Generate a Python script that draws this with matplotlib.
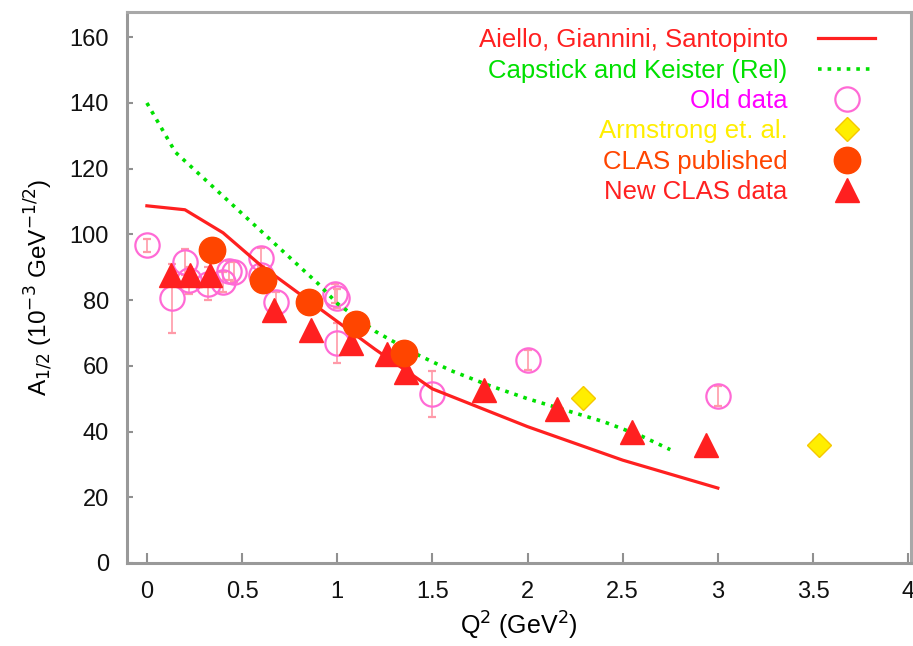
import matplotlib
matplotlib.use("Agg")
import matplotlib.pyplot as plt
import numpy as np
from matplotlib.ticker import FuncFormatter
from matplotlib.lines import Line2D

# ---- data ----
aiello_q2 = [0.0, 0.2, 0.4, 0.6, 0.8, 1.0, 1.2, 1.5, 2.0, 2.5, 3.0]
aiello_a = [108.7, 107.5, 100.5, 90.5, 82.0, 73.5, 65.0, 53.0, 41.5, 31.3, 22.8]

capstick_q2 = [0.0, 0.15, 0.3, 0.45, 0.6, 0.75, 0.9, 1.0, 1.2, 1.4, 1.6, 1.8, 2.0, 2.2, 2.4, 2.6, 2.75]
capstick_a = [140.0, 125.0, 117.0, 109.0, 101.0, 93.0, 85.0, 79.0, 70.5, 64.0, 58.5, 54.0, 50.0, 46.5, 43.0, 38.6, 34.5]

old_q2 = [0.0, 0.13, 0.2, 0.22, 0.32, 0.4, 0.43, 0.46, 0.6, 0.6, 0.68, 0.99, 1.0, 1.0, 1.5, 2.0, 3.0]
old_a = [96.7, 80.5, 91.5, 86.0, 85.0, 85.5, 89.0, 88.5, 92.8, 87.5, 79.4, 82.0, 80.5, 67.0, 51.5, 61.8, 50.8]
old_err = [2.0, 10.5, 4.0, 4.0, 5.0, 3.0, 3.0, 3.0, 3.0, 3.0, 3.0, 3.0, 3.0, 6.0, 7.0, 3.0, 3.0]

arm_q2 = [2.29, 3.53]
arm_a = [50.2, 35.9]

clas_pub_q2 = [0.34, 0.61, 0.85, 1.10, 1.35]
clas_pub_a = [95.2, 86.2, 79.4, 72.8, 64.0]

clas_new_q2 = [0.126, 0.226, 0.33, 0.67, 0.86, 1.07, 1.26, 1.36, 1.77, 2.155, 2.55, 2.94]
clas_new_a = [87.5, 87.5, 87.5, 77.0, 71.0, 67.0, 63.5, 58.0, 52.5, 47.0, 39.8, 36.0]

legend_labels = ["Aiello, Giannini, Santopinto", "Capstick and Keister (Rel)",
                 "Old data", "Armstrong et. al.", "CLAS published", "New CLAS data"]
x_ticks = [0, 0.5, 1, 1.5, 2, 2.5, 3, 3.5, 4]
y_ticks = [0, 20, 40, 60, 80, 100, 120, 140, 160]

# ---- style ----
plt.rcParams['font.family'] = ['Liberation Sans', 'DejaVu Sans']
red = '#ff2020'
green = '#00e000'
magenta = '#ff00ff'
old_edge = '#ff6ad5'
old_err_col = '#ff9aa8'
yellow = '#ffee00'
orange = '#ff4500'

fig = plt.figure(figsize=(9.13, 6.46), dpi=100)
ax = fig.add_axes([0.139, 0.1285, 0.859, 0.8525])

ax.errorbar(old_q2, old_a, yerr=old_err, fmt='o', ms=17.5, mfc='none', mec=old_edge,
            mew=1.6, ecolor=old_err_col, elinewidth=1.2, capsize=3, capthick=1.2,
            zorder=2)
h_old = Line2D([], [], ls='none', marker='o', ms=17.5, mfc='none', mec=old_edge, mew=1.6)
h_arm, = ax.plot(arm_q2, arm_a, 'D', ms=12, mfc=yellow, mec='#f5c800', mew=1.0,
                 ls='none', zorder=3)
h_ai, = ax.plot(aiello_q2, aiello_a, '-', color=red, lw=2.3, zorder=4)
h_cap, = ax.plot(capstick_q2, capstick_a, ':', color=green, lw=2.6, zorder=4)
h_new, = ax.plot(clas_new_q2, clas_new_a, '^', ms=17, color=red, mec=red, ls='none',
                 zorder=5)
h_pub, = ax.plot(clas_pub_q2, clas_pub_a, 'o', ms=19, color=orange, mec=orange, ls='none',
                 zorder=6)

ax.set_xlim(-0.105, 4.016)
ax.set_ylim(0, 167.6)
ax.set_xticks(x_ticks)
ax.set_yticks(y_ticks)
ax.xaxis.set_major_formatter(FuncFormatter(lambda v, p: f"{v:g}"))
ax.tick_params(direction='in', length=7, width=1.5, color='#909090', labelsize=17,
               labelcolor='#111111', pad=13)
ax.tick_params(axis='y', length=4, pad=13)
for s in ax.spines.values():
    s.set_color('#a8a8a8')
    s.set_linewidth(2.2)
ax.spines['left'].set_color('#999999')
ax.spines['bottom'].set_color('#999999')

ax.set_xlabel(r'Q$^2$ (GeV$^2$)', fontsize=18, labelpad=5)
ax.set_ylabel(r'A$_{1/2}$ (10$^{-3}$ GeV$^{-1/2}$)', fontsize=17.5, labelpad=10)

leg = ax.legend([h_ai, h_cap, h_old, h_arm, h_pub, h_new], legend_labels,
                loc='upper right', bbox_to_anchor=(0.967, 0.9895), borderaxespad=0.0,
                frameon=False, markerfirst=False, fontsize=18.5,
                labelcolor=[red, green, magenta, yellow, orange, red],
                handlelength=2.2, labelspacing=0.245, handletextpad=1.2,
                markerscale=1.0)
for t in leg.get_texts():
    t.set_ha('right')

fig.savefig('out.png', dpi=100)
